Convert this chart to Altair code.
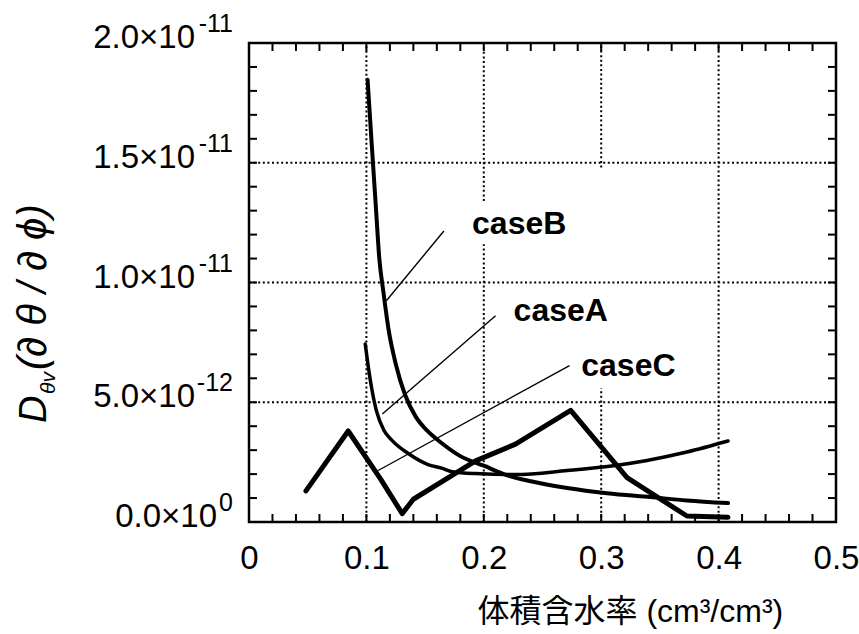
import altair as alt
import numpy as np
import pandas as pd

# Volumetric water content (cm3/cm3) and D_theta_v (d theta / d phi), values in units of 1e-12
case_a_x = [0.099, 0.1034, 0.1085, 0.115, 0.122, 0.136, 0.1525, 0.164, 0.173, 0.193, 0.227, 0.271, 0.312, 0.339, 0.373, 0.408]
case_a_y = [7.43, 5.9, 4.65, 3.82, 3.4, 2.85, 2.4, 2.25, 2.1, 2.02, 1.98, 2.15, 2.36, 2.57, 2.92, 3.38]

case_b_x = [0.101, 0.1045, 0.108, 0.111, 0.1145, 0.119, 0.125, 0.133, 0.142, 0.152, 0.164, 0.18, 0.2, 0.22, 0.24, 0.271, 0.305, 0.342, 0.373, 0.408]
case_b_y = [18.47, 15.8, 13.2, 11.0, 9.6, 8.0, 6.6, 5.3, 4.4, 3.8, 3.3, 2.75, 2.35, 1.95, 1.7, 1.42, 1.2, 1.04, 0.9, 0.79]

case_c_x = [0.0485, 0.0845, 0.112, 0.1305, 0.14, 0.193, 0.227, 0.274, 0.322, 0.373, 0.408]
case_c_y = [1.3, 3.8, 1.8, 0.35, 0.95, 2.55, 3.25, 4.66, 1.85, 0.25, 0.2]

# Labels with leader lines: name, text position, leader start (on curve) and end
label_names = ["caseB", "caseA", "caseC"]
label_x = [0.19, 0.2254, 0.283]
label_y = [12.43, 8.82, 6.53]
leader_x0 = [0.117, 0.1136, 0.110]
leader_y0 = [9.24, 4.51, 2.15]
leader_x1 = [0.166, 0.21, 0.273]
leader_y1 = [12.15, 8.61, 6.53]

# Axis ticks and labels
x_label_values = [0.0, 0.1, 0.2, 0.3, 0.4, 0.5]
# vertical grid drawn as segments, left open around the case labels
vgrid_x = [0.1, 0.2, 0.2, 0.3, 0.3, 0.4]
vgrid_from = [0.0, 0.0, 13.4, 0.0, 14.8, 0.0]
vgrid_to = [20.0, 11.6, 20.0, 5.6, 20.0, 20.0]
y_grid_values = [5.0, 10.0, 15.0]
y_label_values = [0.0, 5.0, 10.0, 15.0, 20.0]
y_label_mantissa = ["0.0×10", "5.0×10", "1.0×10", "1.5×10", "2.0×10"]
y_label_exponent = ["0", "-12", "-11", "-11", "-11"]

E = 1e-12
W, H = 587, 479
FONT = "Liberation Sans"

xs = alt.Scale(domain=[0, 0.5], nice=False, zero=False)
ys = alt.Scale(domain=[0, 20 * E], nice=False, zero=False)

x_axis = alt.Axis(
    values=x_label_values,
    labelExpr="datum.value == 0 ? '0' : format(datum.value, '.1f')",
    labelFont=FONT, labelFontSize=33, labelColor="black",
    labelPadding=20, labelFlush=False,
    ticks=False, tickSize=0, domain=False, grid=False,
    title="体積含水率 (cm³/cm³)",
    titleFont="Liberation Sans, Noto Sans CJK JP", titleFontSize=32,
    titleFontWeight="normal", titleColor="black",
    titleAlign="left", titleAnchor="start", titleX=228, titleY=99,
    titleBaseline="alphabetic",
)
X = alt.X("x:Q", scale=xs, axis=x_axis)
Y = alt.Y("y:Q", scale=ys, axis=None)


def curve_df(xv, yv, name):
    return pd.DataFrame({"x": xv, "y": np.array(yv) * E, "case": name})


df_a = curve_df(case_a_x, case_a_y, "caseA")
df_b = curve_df(case_b_x, case_b_y, "caseB")
df_c = curve_df(case_c_x, case_c_y, "caseC")

# dotted grid
grid_style = dict(color="black", strokeWidth=2, strokeDash=[2, 2.6])
vgrid_df = pd.DataFrame({
    "x": vgrid_x, "y": np.array(vgrid_from) * E, "y2": np.array(vgrid_to) * E,
})
vgrid = alt.Chart(vgrid_df).mark_rule(**grid_style).encode(x=X, y=Y, y2="y2:Q")
hgrid = alt.Chart(pd.DataFrame({"y": np.array(y_grid_values) * E})).mark_rule(
    **grid_style
).encode(y=Y, x=alt.value(0), x2=alt.value(W))

# inward ticks on all four sides
xt = pd.DataFrame({"x": np.round(np.arange(0.02, 0.5, 0.02), 4)})
yt = pd.DataFrame({"y": np.round(np.arange(1, 20, 1), 4) * E})
TL = 8
tick_style = dict(color="black", strokeWidth=2)
ticks = [
    alt.Chart(xt).mark_rule(**tick_style).encode(x=X, y=alt.value(H), y2=alt.value(H - TL)),
    alt.Chart(xt).mark_rule(**tick_style).encode(x=X, y=alt.value(0), y2=alt.value(TL)),
    alt.Chart(yt).mark_rule(**tick_style).encode(y=Y, x=alt.value(0), x2=alt.value(TL)),
    alt.Chart(yt).mark_rule(**tick_style).encode(y=Y, x=alt.value(W), x2=alt.value(W - TL)),
]

line_a = alt.Chart(df_a).mark_line(
    color="black", strokeWidth=3.5, interpolate="monotone", strokeCap="round", strokeJoin="round"
).encode(x=X, y=Y)
line_b = alt.Chart(df_b).mark_line(
    color="black", strokeWidth=4, interpolate="monotone", strokeCap="round", strokeJoin="round"
).encode(x=X, y=Y)
line_c = alt.Chart(df_c).mark_line(
    color="black", strokeWidth=5, strokeCap="round", strokeJoin="round"
).encode(x=X, y=Y)

leaders_df = pd.DataFrame({
    "x": leader_x0, "y": np.array(leader_y0) * E,
    "x2": leader_x1, "y2": np.array(leader_y1) * E,
})
leaders = alt.Chart(leaders_df).mark_rule(color="black", strokeWidth=1.4).encode(
    x=X, y=Y, x2="x2:Q", y2="y2:Q"
)

labels_df = pd.DataFrame({"x": label_x, "y": np.array(label_y) * E, "t": label_names})
label_style = dict(align="left", baseline="middle", font=FONT, fontSize=32, fontWeight="bold")
labels_halo = alt.Chart(labels_df).mark_text(
    color="white", stroke="white", strokeWidth=10, strokeJoin="round", **label_style
).encode(x=X, y=Y, text="t:N")
labels = alt.Chart(labels_df).mark_text(color="black", **label_style).encode(
    x=X, y=Y, text="t:N"
)

# y tick labels: mantissa plus raised exponent
ylab_df = pd.DataFrame({
    "y": np.array(y_label_values) * E,
    "m": y_label_mantissa,
    "e": y_label_exponent,
})
ylab_m = alt.Chart(ylab_df).transform_calculate(
    px="-17 - (datum.e == '0' ? 15 : 37)"
).mark_text(
    align="right", baseline="alphabetic", dy=5, font=FONT, fontSize=33, color="black"
).encode(y=Y, x=alt.X("px:Q", scale=None), text="m:N")
ylab_e = alt.Chart(ylab_df).mark_text(
    align="right", baseline="alphabetic", dy=-11, font=FONT, fontSize=25, color="black"
).encode(y=Y, x=alt.value(-16), text="e:N")

# rotated y title: D, subscript theta-v, then the derivative ratio
ytitle_d = alt.Chart(pd.DataFrame({"t": ["D"]})).mark_text(
    align="left", baseline="alphabetic", angle=270, font=FONT, fontSize=38,
    fontStyle="italic", color="black"
).encode(x=alt.value(-203), y=alt.value(380), text="t:N")
ytitle_sub = alt.Chart(pd.DataFrame({"t": ["θv"]})).mark_text(
    align="left", baseline="alphabetic", angle=270, font=FONT, fontSize=21,
    fontStyle="italic", color="black"
).encode(x=alt.value(-194), y=alt.value(351), text="t:N")
ytitle_rest = alt.Chart(pd.DataFrame({"t": ["(∂ θ / ∂ ϕ)"]})).mark_text(
    align="left", baseline="alphabetic", angle=270, font=FONT, fontSize=40,
    fontStyle="italic", color="black"
).encode(x=alt.value(-203), y=alt.value(327), text="t:N")

chart = alt.layer(
    vgrid, hgrid, *ticks, leaders, line_a, line_b, line_c, labels_halo, labels,
    ylab_m, ylab_e, ytitle_d, ytitle_sub, ytitle_rest,
).properties(
    width=W, height=H,
    autosize=alt.AutoSizeParams(type="none"),
    padding={"left": 249, "top": 43, "right": 23, "bottom": 112},
    background="white",
).configure_view(stroke="black", strokeWidth=2.5)

chart.save("out.html", embed_options={"renderer": "svg", "actions": False})
